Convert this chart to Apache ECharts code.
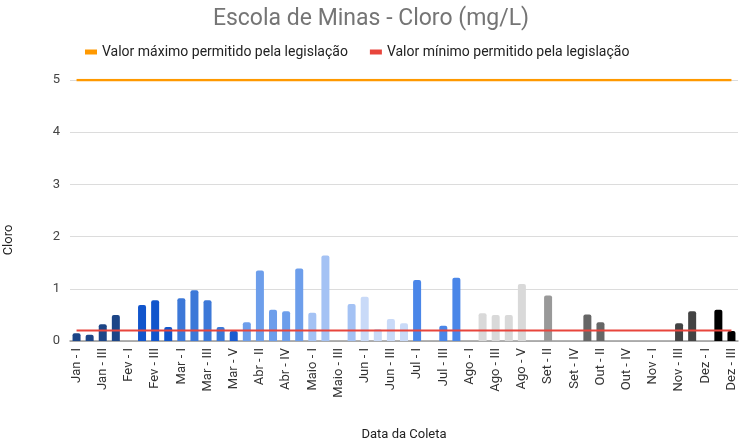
<!DOCTYPE html>
<html>
<head>
<meta charset="utf-8">
<script src="https://cdn.jsdelivr.net/npm/echarts@6/dist/echarts.min.js"></script>
<style>html,body{margin:0;padding:0;background:#fff}#c{width:742px;height:446px}</style>
</head>
<body>
<div id="c"></div>
<script>
const categories = [
  "Jan - I","Jan - II","Jan - III","Jan - IV",
  "Fev - I","Fev - II","Fev - III","Fev - IV",
  "Mar - I","Mar - II","Mar - III","Mar - IV","Mar - V",
  "Abr - I","Abr - II","Abr - III","Abr - IV","Abr - V",
  "Maio - I","Maio - II","Maio - III","Maio - IV",
  "Jun - I","Jun - II","Jun - III","Jun - IV",
  "Jul - I","Jul - II","Jul - III","Jul - IV",
  "Ago - I","Ago - II","Ago - III","Ago - IV","Ago - V",
  "Set - I","Set - II","Set - III","Set - IV",
  "Out - I","Out - II","Out - III","Out - IV","Out - V",
  "Nov - I","Nov - II","Nov - III","Nov - IV",
  "Dez - I","Dez - II","Dez - III"
];
const cloro = [
  0.15,0.12,0.32,0.50,
  null,0.69,0.78,0.27,
  0.82,0.97,0.78,0.27,0.19,
  0.36,1.35,0.60,0.57,1.39,
  0.54,1.64,null,0.71,
  0.85,0.23,0.42,0.34,
  1.17,null,0.29,1.21,
  null,0.53,0.50,0.50,1.09,
  null,0.87,null,null,
  0.51,0.36,null,null,null,
  null,null,0.34,0.57,
  null,0.60,0.19
];
const valorMaximo = [
  5,5,5,5, 5,5,5,5, 5,5,5,5,5, 5,5,5,5,5, 5,5,5,5, 5,5,5,5, 5,5,5,5,
  5,5,5,5,5, 5,5,5,5, 5,5,5,5,5, 5,5,5,5, 5,5,5
];
const valorMinimo = [
  0.2,0.2,0.2,0.2, 0.2,0.2,0.2,0.2, 0.2,0.2,0.2,0.2,0.2, 0.2,0.2,0.2,0.2,0.2,
  0.2,0.2,0.2,0.2, 0.2,0.2,0.2,0.2, 0.2,0.2,0.2,0.2,
  0.2,0.2,0.2,0.2,0.2, 0.2,0.2,0.2,0.2, 0.2,0.2,0.2,0.2,0.2, 0.2,0.2,0.2,0.2, 0.2,0.2,0.2
];
const yTicks = [0,1,2,3,4,5];

const monthColors = {
  "Jan":"#1c4587","Fev":"#1155cc","Mar":"#3c78d8","Abr":"#6d9eeb","Maio":"#a4c2f4",
  "Jun":"#c9daf8","Jul":"#4a86e8","Ago":"#d9d9d9","Set":"#999999","Out":"#666666",
  "Nov":"#434343","Dez":"#000000"
};
const specialColors = {"Mar - V":"#1a5bd0"};

const barData = categories.map((c,i)=>({
  value: cloro[i],
  itemStyle:{color: specialColors[c] || monthColors[c.split(" - ")[0]], borderRadius:[2,2,0,0]}
}));

const font = "Roboto, 'Liberation Sans', Arial, sans-serif";
const chart = echarts.init(document.getElementById('c'), null, {renderer:'canvas'});
chart.setOption({
  animation:false,
  textStyle:{fontFamily:font},
  title:{
    text:"Escola de Minas - Cloro (mg/L)",
    left:'center', top:3,
    textStyle:{fontFamily:font, fontSize:23, fontWeight:'normal', color:'#757575'}
  },
  legend:{
    top:40, left:80,
    itemWidth:12, itemHeight:5, itemGap:22,
    icon:'rect',
    data:["Valor máximo permitido pela legislação","Valor mínimo permitido pela legislação"],
    textStyle:{fontFamily:font, fontSize:14, color:'#222'}
  },
  graphic:[{
    type:'text',
    x:9, y:240,
    rotation:Math.PI/2,
    style:{text:"Cloro", font:"13px " + font, fill:'#222', textAlign:'center', textVerticalAlign:'middle'}
  }],
  grid:{left:70, right:4, top:80, bottom:99, containLabel:false},
  xAxis:{
    type:'category',
    data:categories,
    name:"Data da Coleta",
    nameLocation:'middle',
    nameGap:87,
    nameTextStyle:{fontFamily:font, fontSize:13, color:'#222'},
    axisTick:{show:false},
    axisLine:{lineStyle:{color:'#999', width:1.5}},
    axisLabel:{interval:1, rotate:90, fontSize:13, color:'#333', margin:7, fontFamily:font}
  },
  yAxis:{
    type:'value',
    min:yTicks[0], max:yTicks[yTicks.length-1], interval:1,
    axisLine:{show:false},
    axisTick:{show:false},
    axisLabel:{fontSize:13, color:'#444', margin:10, fontFamily:font},
    splitLine:{lineStyle:{color:'#dcdcdc', width:1}}
  },
  series:[
    {
      name:"Cloro",
      type:'bar',
      data:barData,
      barWidth:8,
      z:2
    },
    {
      name:"Valor máximo permitido pela legislação",
      type:'line',
      data:valorMaximo,
      showSymbol:false, symbol:'none',
      itemStyle:{color:'#ff9900'},
      lineStyle:{color:'#ff9900', width:2.5},
      z:3
    },
    {
      name:"Valor mínimo permitido pela legislação",
      type:'line',
      data:valorMinimo,
      showSymbol:false, symbol:'none',
      itemStyle:{color:'#e8453c'},
      lineStyle:{color:'#e8453c', width:2},
      z:3
    }
  ]
});
</script>
</body>
</html>
